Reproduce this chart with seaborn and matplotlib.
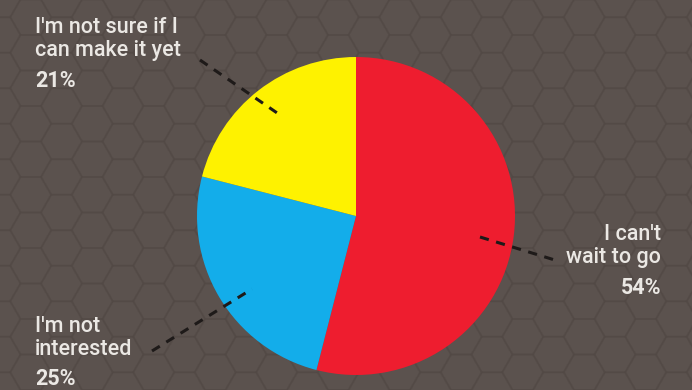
import numpy as np
import matplotlib
matplotlib.use("Agg")
import matplotlib.pyplot as plt
from matplotlib.patches import RegularPolygon
import seaborn as sns

labels = ["I can't\nwait to go", "I'm not\ninterested", "I'm not sure if I\ncan make it yet"]
values = [54, 25, 21]
colors = ["#ee1d2f", "#13adea", "#fef200"]

sns.set_theme(style="white")
plt.rcParams['font.family'] = ['Roboto', 'DejaVu Sans']

BG = "#5b524e"
W, H = 692, 390
fig = plt.figure(figsize=(6.92, 3.90), dpi=100, facecolor=BG)
ax = fig.add_axes([0, 0, 1, 1])
ax.set_facecolor(BG)

# subtle hexagon background pattern (flat-top)
r = 20.5
dx = 1.5 * r
dy = np.sqrt(3) * r
for i in range(-1, int(W / dx) + 2):
    for j in range(-1, int(H / dy) + 2):
        hx_c = i * dx
        hy_c = j * dy + (dy / 2 if i % 2 else 0)
        hx = RegularPolygon((hx_c, hy_c), numVertices=6, radius=r, orientation=np.pi / 6,
                            facecolor='none', edgecolor="#524945", linewidth=1.2,
                            alpha=0.55, zorder=0)
        ax.add_patch(hx)

cx, cy, R = 356, H - 216, 159
wedges, _ = ax.pie(values, colors=colors, startangle=90, counterclock=False,
                   center=(cx, cy), radius=R, frame=True,
                   wedgeprops=dict(linewidth=0, zorder=2))
ax.set_xlim(0, W)
ax.set_ylim(0, H)
ax.set_aspect('equal')
ax.axis('off')

txt = "#ebe8e4"
fs = 15.5
kw = dict(color=txt, fontsize=fs, linespacing=1.12, zorder=5, fontweight=500)
# labels
ax.text(35, H - 17, labels[2], ha='left', va='top', **kw)
ax.text(35, H - 70, f"{values[2]}%", ha='left', va='top',
        **{**kw, 'fontweight': 'bold'})

ax.text(35, H - 316, labels[1], ha='left', va='top', **kw)
ax.text(35, H - 368, f"{values[1]}%", ha='left', va='top',
        **{**kw, 'fontweight': 'bold'})

ax.text(661, H - 224, labels[0], ha='right', va='top', multialignment='right', **kw)
ax.text(661, H - 277, f"{values[0]}%", ha='right', va='top',
        **{**kw, 'fontweight': 'bold'})

# dashed leader lines
lc = "#1e1a19"
for (x0, y0), (x1, y1) in [((200, 60), (283, 117)), ((152, 351), (252, 289)),
                           ((480, 237), (558, 261))]:
    ax.plot([x0, x1], [H - y0, H - y1], color=lc, linestyle=(0, (3, 2.5)),
            linewidth=2.2, zorder=4)

fig.savefig("out.png", dpi=100, facecolor=BG)
